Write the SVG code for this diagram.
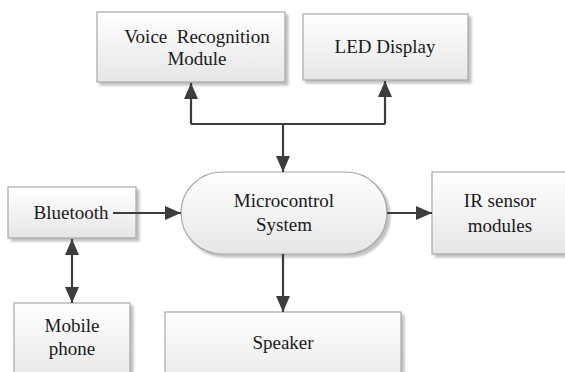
<svg xmlns="http://www.w3.org/2000/svg" width="565" height="372" viewBox="0 0 565 372">
<defs>
<linearGradient id="g" x1="0" y1="0" x2="0" y2="1">
<stop offset="0" stop-color="#ffffff"/>
<stop offset="1" stop-color="#e6e6e6"/>
</linearGradient>
<filter id="sh" x="-10%" y="-10%" width="125%" height="130%">
<feDropShadow dx="3" dy="3" stdDeviation="1.2" flood-color="#9a9a9a" flood-opacity="0.6"/>
</filter>
<marker id="ah" viewBox="0 0 16 14" refX="16" refY="7" markerWidth="16" markerHeight="14" markerUnits="userSpaceOnUse" orient="auto-start-reverse">
<path d="M0,0 L16,7 L0,14 Z" fill="#3c3c3c"/>
</marker>
<style>
.box{fill:url(#g);stroke:#a8a8a8;stroke-width:1.2;filter:url(#sh)}
.t{font-family:'Liberation Serif','Times New Roman',Times,'DejaVu Serif','Noto Serif',serif;font-size:19px;fill:#1a1a1a;text-anchor:middle;white-space:pre}
.c{fill:none;stroke:#3c3c3c;stroke-width:2.2}
</style>
</defs>
<rect width="565" height="372" fill="#ffffff"/>
<g id="voice">
<rect class="box" x="97" y="12" width="188" height="70"/>
<text class="t" x="197" y="43">Voice  Recognition</text>
<text class="t" x="197" y="65">Module</text>
</g>
<g id="led">
<rect class="box" x="303" y="14" width="165" height="66"/>
<text class="t" x="385" y="53">LED Display</text>
</g>
<g id="bluetooth">
<rect class="box" x="8" y="187" width="128" height="51"/>
<text class="t" x="71" y="219">Bluetooth</text>
</g>
<g id="micro">
<rect class="box" x="181" y="172" width="206" height="82" rx="41" ry="41"/>
<text class="t" x="284" y="207">Microcontrol</text>
<text class="t" x="284" y="231">System</text>
</g>
<g id="ir">
<rect class="box" x="432" y="172" width="140" height="82"/>
<text class="t" x="500" y="207">IR sensor</text>
<text class="t" x="500" y="232">modules</text>
</g>
<g id="mobile">
<rect class="box" x="14" y="303" width="116" height="80"/>
<text class="t" x="72" y="332">Mobile</text>
<text class="t" x="72" y="355">phone</text>
</g>
<g id="speaker">
<rect class="box" x="165" y="312" width="236" height="80"/>
<text class="t" x="283" y="349">Speaker</text>
</g>
<g id="connectors">
<path class="c" d="M191,124 H385"/>
<path class="c" d="M191,124 V83" marker-end="url(#ah)"/>
<path class="c" d="M385,124 V81" marker-end="url(#ah)"/>
<path class="c" d="M283,123 V172" marker-end="url(#ah)"/>
<path class="c" d="M113,213 H181" marker-end="url(#ah)"/>
<path class="c" d="M387,213 H432" marker-end="url(#ah)"/>
<path class="c" d="M283,254 V312" marker-end="url(#ah)"/>
<path class="c" d="M72,239 V303" marker-start="url(#ah)" marker-end="url(#ah)"/>
</g>
</svg>
